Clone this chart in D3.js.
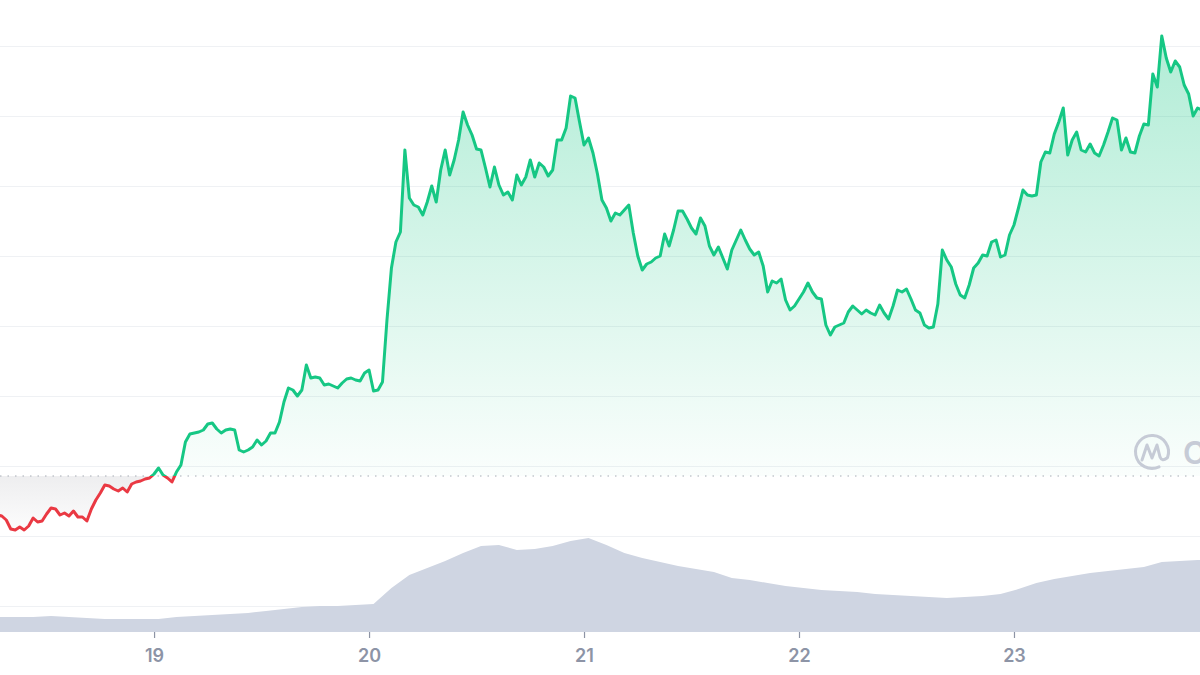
<!DOCTYPE html>
<html>
<head>
<meta charset="utf-8">
<script src="https://cdn.jsdelivr.net/npm/d3@7"></script>
<style>
  body { margin: 0; background: #fff; }
  svg { display: block; }
</style>
</head>
<body>
<svg id="chart" width="1200" height="675"></svg>
<script>
// ---------- DATA ----------
const startTime = Date.UTC(2023, 9, 18, 6, 30);   // first price sample
const priceStepMinutes = 30;
const prices = [
  0.191,0.190,0.186,0.177,0.176,0.179,0.176,0.180,0.188,0.184,
  0.185,0.192,0.198,0.197,0.191,0.193,0.190,0.195,0.189,0.189,
  0.185,0.197,0.206,0.213,0.221,0.220,0.217,0.215,0.218,0.214,
  0.222,0.224,0.225,0.227,0.228,0.232,0.238,0.231,0.228,0.224,
  0.234,0.241,0.264,0.272,0.273,0.274,0.276,0.282,0.283,0.277,
  0.273,0.276,0.277,0.276,0.256,0.254,0.256,0.259,0.266,0.261,
  0.265,0.273,0.273,0.284,0.304,0.318,0.316,0.310,0.316,0.341,
  0.328,0.329,0.328,0.321,0.322,0.320,0.318,0.323,0.327,0.328,
  0.326,0.325,0.333,0.336,0.315,0.316,0.324,0.386,0.438,0.464,
  0.474,0.556,0.508,0.501,0.499,0.491,0.504,0.520,0.504,0.536,
  0.556,0.531,0.546,0.566,0.594,0.581,0.571,0.557,0.556,0.538,
  0.519,0.539,0.521,0.511,0.514,0.506,0.531,0.521,0.529,0.546,
  0.529,0.543,0.539,0.530,0.536,0.566,0.566,0.578,0.610,0.608,
  0.584,0.561,0.568,0.553,0.532,0.506,0.498,0.485,0.493,0.491,
  0.496,0.501,0.473,0.450,0.436,0.442,0.444,0.448,0.450,0.472,
  0.460,0.476,0.495,0.495,0.487,0.478,0.472,0.488,0.480,0.460,
  0.451,0.459,0.448,0.437,0.456,0.466,0.476,0.466,0.457,0.451,
  0.454,0.440,0.414,0.425,0.423,0.427,0.406,0.396,0.400,0.407,
  0.414,0.423,0.414,0.408,0.407,0.381,0.371,0.379,0.381,0.383,
  0.394,0.400,0.396,0.392,0.396,0.393,0.391,0.401,0.393,0.387,
  0.400,0.416,0.414,0.417,0.407,0.396,0.393,0.381,0.378,0.379,
  0.402,0.456,0.446,0.439,0.422,0.411,0.408,0.421,0.438,0.443,
  0.451,0.450,0.464,0.466,0.449,0.451,0.471,0.481,0.498,0.516,
  0.511,0.510,0.511,0.544,0.554,0.553,0.572,0.584,0.598,0.551,
  0.566,0.574,0.556,0.554,0.562,0.553,0.550,0.561,0.574,0.588,
  0.586,0.556,0.568,0.554,0.553,0.570,0.582,0.581,0.632,0.619,
  0.670,0.648,0.634,0.645,0.639,0.621,0.612,0.590,0.598,0.596
];
const volumeStepMinutes = 120;
const volumes = [ // millions
  30,30,30,32,30,28,26,26,26,26,
  30,32,34,36,38,42,46,50,52,52,
  54,56,88,114,128,142,158,172,174,164,
  166,172,182,188,174,158,148,140,132,126,
  120,108,104,98,92,88,84,82,80,76,
  74,72,70,68,70,72,76,86,98,106,
  112,118,122,126,130,140,142,144,145
];
const baselinePrice = 0.230;   // opening price (dotted reference line)
const gridPrices = [0.10,0.17,0.24,0.31,0.38,0.45,0.52,0.59,0.66];
const tickDays = [19,20,21,22,23];
const watermarkText = "CoinMarketCap";

// ---------- SETUP ----------
const W = 1200, H = 675;
const svg = d3.select("#chart");

const x = d3.scaleUtc()
  .domain([new Date(Date.UTC(2023,9,18,6,48)), new Date(Date.UTC(2023,9,23,20,46))])
  .range([0, W]);
const y = d3.scaleLinear().domain([0.10, 0.66]).range([606, 46]);
const yv = d3.scaleLinear().domain([0, 200]).range([632, 532]);

const priceData = prices.map((p, i) => ({ t: new Date(startTime + i * priceStepMinutes * 60000), p }));
const volData = volumes.map((v, i) => ({ t: new Date(startTime + i * volumeStepMinutes * 60000), v }));

const yBase = y(baselinePrice);

// ---------- DEFS ----------
const defs = svg.append("defs");
defs.append("clipPath").attr("id", "above")
  .append("rect").attr("x", 0).attr("y", 0).attr("width", W).attr("height", yBase);
defs.append("clipPath").attr("id", "below")
  .append("rect").attr("x", 0).attr("y", yBase).attr("width", W).attr("height", H - yBase);

const gg = defs.append("linearGradient").attr("id", "gGreen")
  .attr("gradientUnits", "userSpaceOnUse").attr("x1", 0).attr("x2", 0).attr("y1", 30).attr("y2", yBase);
gg.append("stop").attr("offset", 0).attr("stop-color", "#16c784").attr("stop-opacity", 0.34);
gg.append("stop").attr("offset", 1).attr("stop-color", "#16c784").attr("stop-opacity", 0.02);

const rg = defs.append("linearGradient").attr("id", "gRed")
  .attr("gradientUnits", "userSpaceOnUse").attr("x1", 0).attr("x2", 0).attr("y1", yBase).attr("y2", 540);
rg.append("stop").attr("offset", 0).attr("stop-color", "#d9d9dc").attr("stop-opacity", 0.45);
rg.append("stop").attr("offset", 1).attr("stop-color", "#d9d9dc").attr("stop-opacity", 0.0);

// ---------- GRID ----------
svg.append("g").selectAll("line").data(gridPrices).join("line")
  .attr("x1", 0).attr("x2", W)
  .attr("y1", d => Math.round(y(d)) + 0.5).attr("y2", d => Math.round(y(d)) + 0.5)
  .attr("stroke", "#eff1f4").attr("stroke-width", 1);

// ---------- VOLUME ----------
svg.append("path").datum(volData)
  .attr("fill", "#cfd5e2")
  .attr("d", d3.area().x(d => x(d.t)).y0(yv(0)).y1(d => yv(d.v)));

// ---------- PRICE AREAS ----------
const area = d3.area().x(d => x(d.t)).y0(yBase).y1(d => y(d.p));
svg.append("path").datum(priceData).attr("clip-path", "url(#above)")
  .attr("fill", "url(#gGreen)").attr("d", area);
svg.append("path").datum(priceData).attr("clip-path", "url(#below)")
  .attr("fill", "url(#gRed)").attr("d", area);

// baseline dotted
svg.append("line").attr("x1", 0).attr("x2", W).attr("y1", yBase).attr("y2", yBase)
  .attr("stroke", "#a6abb5").attr("stroke-width", 1.2).attr("stroke-dasharray", "1.5,6");

// watermark (cut off at the right edge, as in the reference)
const wm = svg.append("g").attr("transform", "translate(1152,452)").attr("fill", "none")
  .attr("stroke", "#c6cbd6").attr("stroke-width", 3).attr("stroke-linecap", "round").attr("stroke-linejoin", "round");
wm.append("path").attr("d", d3.arc()({ innerRadius: 16.5, outerRadius: 16.5, startAngle: 2.7, endAngle: 2 * Math.PI + 1.9 }));
wm.append("path").attr("d", "M-10,8 L-5,-7 L0,6 L5,-7 L8,5 Q10,10 15,6");
svg.append("text").attr("x", 1183).attr("y", 464).attr("fill", "#c6cbd6")
  .attr("font-family", "Inter, 'Open Sans', sans-serif").attr("font-weight", 600).attr("font-size", 31)
  .text(watermarkText);

// ---------- PRICE LINE ----------
const line = d3.line().x(d => x(d.t)).y(d => y(d.p));
svg.append("path").datum(priceData).attr("clip-path", "url(#above)")
  .attr("fill", "none").attr("stroke", "#16c784").attr("stroke-width", 3)
  .attr("stroke-linejoin", "round").attr("d", line);
svg.append("path").datum(priceData).attr("clip-path", "url(#below)")
  .attr("fill", "none").attr("stroke", "#ea3943").attr("stroke-width", 3)
  .attr("stroke-linejoin", "round").attr("d", line);

// ---------- X AXIS ----------
const xAxis = d3.axisBottom(x)
  .tickValues(tickDays.map(d => new Date(Date.UTC(2023, 9, d))))
  .tickFormat(d3.utcFormat("%-d"))
  .tickSize(6).tickPadding(11);
const ax = svg.append("g").attr("transform", "translate(0,632)").call(xAxis);
ax.select(".domain").remove();
ax.selectAll(".tick line").attr("stroke", "#8d94a5").attr("stroke-width", 1.2);
ax.selectAll(".tick text").attr("fill", "#8d94a6")
  .attr("font-family", "Inter, 'Open Sans', sans-serif").attr("font-weight", 600).attr("font-size", 18);
</script>
</body>
</html>
